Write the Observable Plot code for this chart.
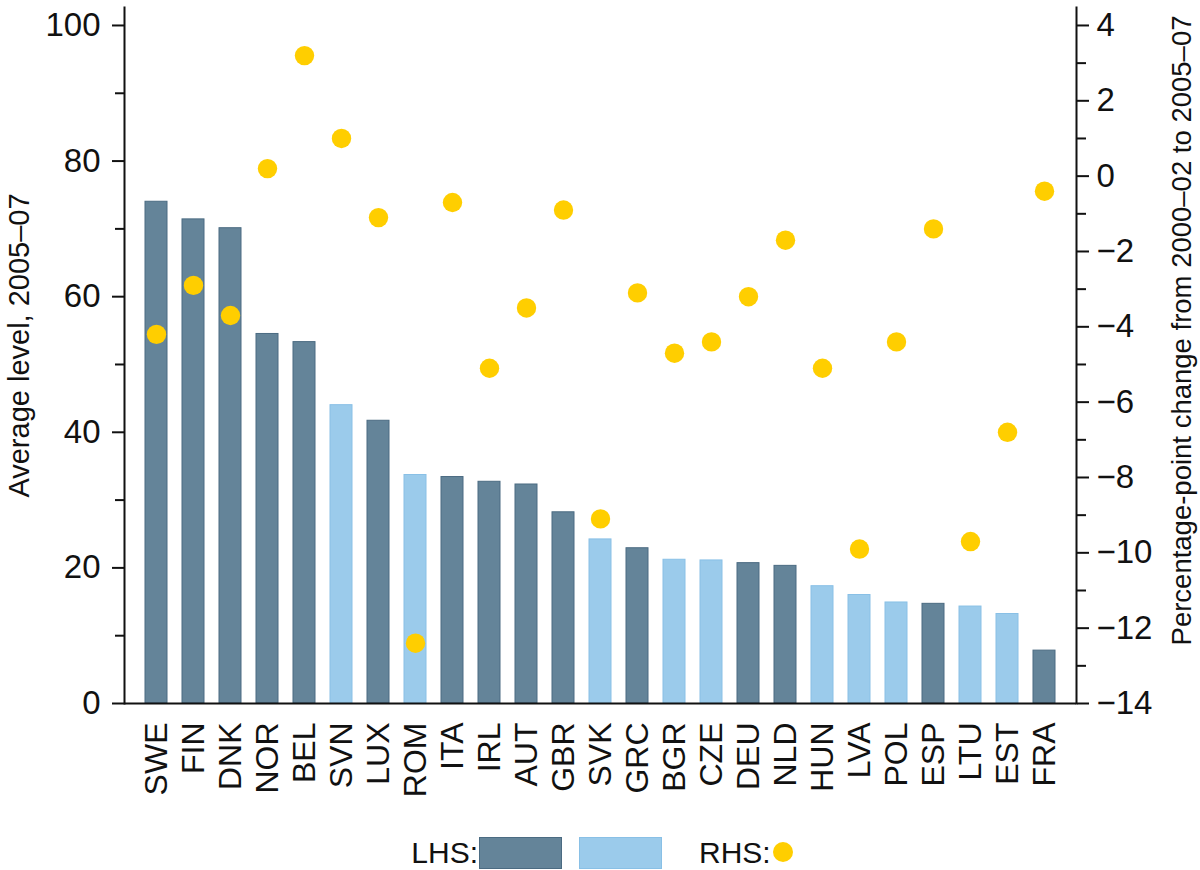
<!DOCTYPE html>
<html><head><meta charset="utf-8">
<script src="https://cdn.jsdelivr.net/npm/d3@7"></script>
<script src="https://cdn.jsdelivr.net/npm/@observablehq/plot@0.6"></script>
<style>
body{margin:0;background:#fff;font-family:"Liberation Sans",Arial,Helvetica,sans-serif;}
#wrap{width:1200px;}
</style>
</head><body><div id="wrap"><div id="chart"></div><div id="legend"></div></div>
<script>
// ---- data ----
const countries = ["SWE","FIN","DNK","NOR","BEL","SVN","LUX","ROM","ITA","IRL","AUT","GBR","SVK","GRC","BGR","CZE","DEU","NLD","HUN","LVA","POL","ESP","LTU","EST","FRA"];
const levels = [74.0,71.4,70.1,54.5,53.3,44.0,41.7,33.7,33.4,32.7,32.3,28.2,24.2,22.9,21.2,21.1,20.7,20.3,17.3,16.0,14.9,14.7,14.3,13.2,7.8];
const groups = ["dark","dark","dark","dark","dark","light","dark","light","dark","dark","dark","dark","light","dark","light","light","dark","dark","light","light","light","dark","light","light","dark"];
const changes = [-4.2,-2.9,-3.7,0.2,3.2,1.0,-1.1,-12.4,-0.7,-5.1,-3.5,-0.9,-9.1,-3.1,-4.7,-4.4,-3.2,-1.7,-5.1,-9.9,-4.4,-1.4,-9.7,-6.8,-0.4];
const leftTicks = [0,20,40,60,80,100];
const leftMinor = [10,30,50,70,90];
const rightTicks = [-14,-12,-10,-8,-6,-4,-2,0,2,4];
const rightMinor = [-13,-11,-9,-7,-5,-3,-1,1,3];
const leftTitle = "Average level, 2005\u201307";
const rightTitle = "Percentage-point change from 2000\u201302 to 2005\u201307";

// ---- styling ----
const DARK = "#648499", DARK_STROKE = "#4b6b82";
const LIGHT = "#9BCBEB", LIGHT_STROKE = "#89c0e6";
const YELLOW = "#FFCE00";
const INK = "#111";

// right axis maps [-14,4] onto the left axis [0,100]
const rMin = -14, rMax = 4;
const toLeft = r => (r - rMin) * 100 / (rMax - rMin);
const fromLeft = v => v * (rMax - rMin) / 100 + rMin;
const fmt = n => (n < 0 ? "\u2212" + Math.abs(n) : String(n));

const data = countries.map((c, i) => ({country: c, level: levels[i], group: groups[i], change: changes[i]}));

const chart = Plot.plot({
  width: 1200,
  height: 830,
  marginLeft: 124,
  marginRight: 124,
  marginTop: 7,
  marginBottom: 127,
  style: {fontFamily: '"Liberation Sans", Arial, Helvetica, sans-serif', fontSize: "33px", color: INK, background: "#fff", overflow: "visible"},
  x: {domain: countries, padding: 0.4, label: null},
  y: {domain: [0, 102.65], label: null},
  marks: [
    Plot.barY(data.filter(d => d.group === "dark"), {x: "country", y: "level", fill: DARK, stroke: DARK_STROKE, strokeWidth: 1}),
    Plot.barY(data.filter(d => d.group === "light"), {x: "country", y: "level", fill: LIGHT, stroke: LIGHT_STROKE, strokeWidth: 1}),
    Plot.dot(data, {x: "country", y: d => toLeft(d.change), r: 9.7, fill: YELLOW}),
    Plot.ruleY([0], {stroke: INK, strokeWidth: 2}),
    Plot.frame({anchor: "left", stroke: INK, strokeWidth: 2}),
    Plot.frame({anchor: "right", stroke: INK, strokeWidth: 2}),
    Plot.axisX({tickSize: 0, tickPadding: 19, tickRotate: -90, fontSize: 32, label: null}),
    Plot.axisY(leftTicks, {tickSize: 12, tickPadding: 12, strokeWidth: 2, label: null, fontSize: 33}),
    Plot.axisY(leftMinor, {tickSize: 9, tickFormat: () => "", strokeWidth: 2, label: null}),
    Plot.axisY(rightTicks.map(toLeft), {anchor: "right", tickSize: 12, tickPadding: 8, strokeWidth: 2, label: null, fontSize: 33,
      tickFormat: d => fmt(Math.round(fromLeft(d)))}),
    Plot.axisY(rightMinor.map(toLeft), {anchor: "right", tickSize: 9, tickFormat: () => "", strokeWidth: 2, label: null}),
    Plot.text([leftTitle], {frameAnchor: "left", textAnchor: "middle", rotate: -90, dx: -105, dy: -10, fontSize: 29, fill: INK}),
    Plot.text([rightTitle], {frameAnchor: "right", textAnchor: "middle", rotate: -90, dx: 106, dy: -25, fontSize: 27.5, fill: INK})
  ]
});
document.getElementById("chart").appendChild(chart);

// ---- legend (below the chart svg) ----
const lg = d3.select("#legend").append("svg").attr("width", 1200).attr("height", 40)
  .style("display", "block")
  .style("font-family", '"Liberation Sans", Arial, Helvetica, sans-serif');
lg.append("text").attr("x", 478).attr("y", 33).attr("text-anchor", "end").attr("font-size", 30).attr("fill", INK).text("LHS:");
lg.append("rect").attr("x", 479.5).attr("y", 7.5).attr("width", 82).attr("height", 31).attr("fill", DARK).attr("stroke", DARK_STROKE);
lg.append("rect").attr("x", 579.5).attr("y", 7.5).attr("width", 82).attr("height", 31).attr("fill", LIGHT).attr("stroke", LIGHT_STROKE);
lg.append("text").attr("x", 699).attr("y", 33).attr("font-size", 30).attr("fill", INK).text("RHS:");
lg.append("circle").attr("cx", 783).attr("cy", 22).attr("r", 10).attr("fill", YELLOW);
</script>
</body></html>
